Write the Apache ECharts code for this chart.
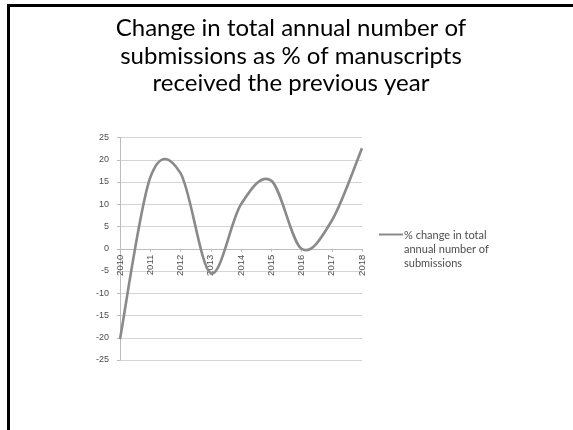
<!DOCTYPE html>
<html><head><meta charset="utf-8">
<script src="https://cdn.jsdelivr.net/npm/echarts@6/dist/echarts.min.js"></script>
<style>html,body{margin:0;padding:0;background:#fff}#c{width:573px;height:430px}</style>
</head><body><div id="c"></div>
<script>
const years = ['2010','2011','2012','2013','2014','2015','2016','2017','2018'];
const pctChange = [-20.3, 16, 17, -5.5, 10, 15.3, 0, 6.3, 22.6];
const yTicks = {min: -25, max: 25, interval: 5};
const titleText = 'Change in total annual number of\nsubmissions as % of manuscripts\nreceived the previous year';
const seriesName = '% change in total\nannual number of\nsubmissions';

const gridTop = 137.5, gridBottom = 70;
const chart = echarts.init(document.getElementById('c'), null, {renderer: 'canvas'});
const plotH = 430 - gridTop - gridBottom;
const zeroOffset = -plotH * (0 - yTicks.min) / (yTicks.max - yTicks.min);

function renderCurve(params, api) {
  if (params.dataIndex !== 0) return null;
  const pts = pctChange.map((v, i) => api.coord([i, v]));
  const n = pts.length;
  const t = 1 / 6;
  let d = 'M' + pts[0][0] + ',' + pts[0][1];
  for (let i = 0; i < n - 1; i++) {
    const p0 = pts[Math.max(i - 1, 0)], p1 = pts[i], p2 = pts[i + 1], p3 = pts[Math.min(i + 2, n - 1)];
    const c1 = [p1[0] + (p2[0] - p0[0]) * t, p1[1] + (p2[1] - p0[1]) * t];
    const c2 = [p2[0] - (p3[0] - p1[0]) * t, p2[1] - (p3[1] - p1[1]) * t];
    d += 'C' + c1[0] + ',' + c1[1] + ' ' + c2[0] + ',' + c2[1] + ' ' + p2[0] + ',' + p2[1];
  }
  return {type: 'path', shape: {pathData: d}, style: {fill: null, stroke: '#8a8a8a', lineWidth: 2.6, lineJoin: 'round'}, silent: true};
}

chart.setOption({
  animation: false,
  backgroundColor: '#fff',
  title: {
    text: titleText, left: 286, top: 10, textAlign: 'center',
    textStyle: {fontFamily: 'Lato', fontWeight: 'normal', fontSize: 24, lineHeight: 27.5, color: '#000'}
  },
  graphic: [
    {type: 'line', shape: {x1: 8.5, y1: 4, x2: 8.5, y2: 430}, style: {stroke: '#000', lineWidth: 3}},
    {type: 'line', shape: {x1: 7, y1: 5.5, x2: 573, y2: 5.5}, style: {stroke: '#000', lineWidth: 3}},
    {type: 'line', shape: {x1: 379, y1: 234.5, x2: 403, y2: 234.5}, style: {stroke: '#8a8a8a', lineWidth: 2}},
    {type: 'text', left: 404, top: 228, style: {text: seriesName, fontFamily: 'Lato', fontSize: 11, lineHeight: 14, fill: '#4d4d4d'}}
  ],
  grid: {left: 120, right: 211, top: gridTop, bottom: gridBottom},
  xAxis: {
    type: 'category', data: years, boundaryGap: false,
    offset: zeroOffset,
    axisLine: {onZero: false, lineStyle: {color: '#bdbdbd', width: 1}},
    axisTick: {show: true, length: 3, lineStyle: {color: '#bdbdbd'}},
    axisLabel: {rotate: 90, fontFamily: 'Liberation Sans', fontSize: 9.5, color: '#4d4d4d', margin: 6}
  },
  yAxis: {
    type: 'value', min: yTicks.min, max: yTicks.max, interval: yTicks.interval,
    axisLine: {show: true, lineStyle: {color: '#bdbdbd'}},
    axisTick: {show: true, length: 3, lineStyle: {color: '#bdbdbd'}},
    splitLine: {lineStyle: {color: '#d4d4d4', width: 1}},
    axisLabel: {fontFamily: 'Liberation Sans', fontSize: 9, color: '#4d4d4d', margin: 11}
  },
  series: [{
    name: seriesName, type: 'custom', renderItem: renderCurve,
    data: pctChange.map((v, i) => [i, v]), encode: {x: 0, y: 1}, clip: false
  }]
});
</script></body></html>
